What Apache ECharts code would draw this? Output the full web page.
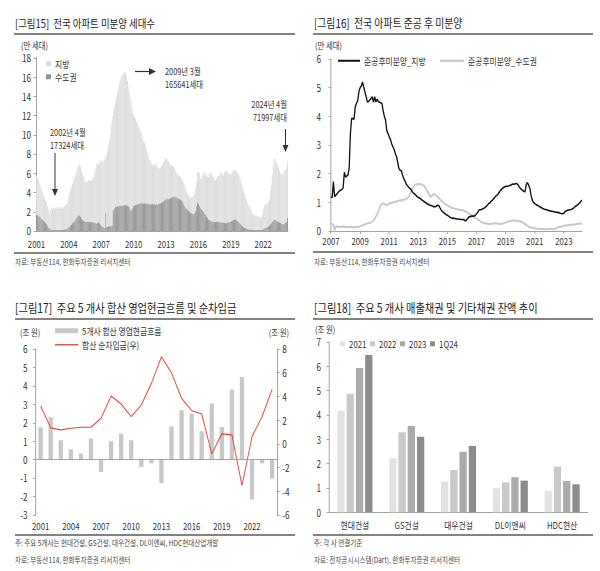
<!DOCTYPE html>
<html><head><meta charset="utf-8">
<script src="https://cdn.jsdelivr.net/npm/echarts@6/dist/echarts.min.js"></script>
<style>html,body{margin:0;padding:0;background:#fff;overflow:hidden}#c{height:571px;transform-origin:0 0}</style>
</head><body><div id="c"></div><script>
// ---------- DATA ----------
// Fig15: monthly unsold apartments (만 세대), 2001-01 .. 2024-04
const national = [
5.7,5.5,5.3,5.0,4.7,4.5,4.2,4.0,3.7,3.4,3.2,3.0,
2.6,2.3,2.0,1.73,2.2,2.4,2.3,2.5,2.2,2.4,2.3,2.5,
2.4,2.5,2.3,2.4,2.5,2.3,2.5,2.6,2.7,2.7,2.8,3.2,
3.6,4.0,4.3,4.6,4.9,5.2,5.5,5.8,6.0,6.3,6.6,6.9,
6.9,6.7,6.2,5.9,5.7,5.4,5.1,5.0,5.2,5.1,5.3,5.2,
5.2,5.4,5.3,5.5,5.6,6.0,6.6,7.0,7.1,6.9,7.2,7.3,
7.2,7.3,7.1,7.4,7.5,7.6,7.9,8.3,8.9,9.5,10.0,10.9,
11.5,12.0,12.6,13.1,13.5,14.0,14.4,14.8,15.3,15.7,16.0,16.2,
16.3,16.4,16.56,16.4,16.2,15.6,15.0,14.5,14.0,13.4,12.9,12.3,
12.1,11.9,11.7,11.4,11.2,11.0,10.8,10.5,10.3,10.0,9.6,9.3,
9.2,8.9,8.5,8.2,7.9,7.6,7.4,7.2,7.0,6.9,6.8,6.98,
7.0,6.9,6.7,6.6,6.5,6.5,6.6,6.7,6.9,7.1,7.3,7.5,
7.6,7.5,7.3,7.2,7.0,6.8,6.9,6.8,6.7,6.6,6.4,6.1,
6.0,5.9,5.8,5.7,5.6,5.5,5.3,5.1,4.9,4.6,4.3,4.1,
3.9,3.7,3.5,3.4,3.5,3.6,3.5,3.7,4.0,4.5,5.2,6.1,
6.1,6.0,5.5,5.4,5.6,6.0,6.2,5.9,6.0,5.8,5.6,5.6,
5.9,6.1,6.0,5.9,5.7,5.6,5.3,5.2,5.5,5.7,5.7,5.7,
6.0,6.1,6.0,5.9,5.7,6.1,6.2,6.3,6.2,6.0,6.0,5.9,
5.9,6.0,6.2,6.2,6.4,6.3,6.3,6.2,6.0,5.8,5.6,5.3,
4.9,4.5,4.2,3.9,3.6,3.3,3.0,2.8,2.6,2.5,2.3,2.0,
1.8,1.7,1.6,1.6,1.6,1.5,1.5,1.5,1.4,1.4,1.4,1.8,
2.2,2.5,2.8,2.7,2.8,2.8,3.1,3.3,4.2,4.8,5.8,6.8,
7.5,7.5,7.2,7.1,6.9,6.6,6.3,5.9,6.1,5.8,5.8,6.2,
6.4,6.4,6.5,7.2];
const metro = [
1.7,1.65,1.6,1.5,1.45,1.35,1.25,1.15,1.05,0.95,0.85,0.75,
0.6,0.45,0.3,0.2,0.15,0.12,0.1,0.1,0.08,0.1,0.1,0.12,
0.1,0.12,0.1,0.1,0.12,0.1,0.12,0.15,0.15,0.2,0.25,0.3,
0.4,0.5,0.6,0.7,0.8,0.9,1.0,1.2,1.3,1.45,1.6,1.67,
1.6,1.45,1.3,1.2,1.1,1.05,1.0,1.0,0.95,1.0,0.95,0.9,
0.95,0.9,0.95,0.9,0.85,0.9,0.8,0.75,0.85,0.9,0.8,0.7,
0.6,0.5,0.45,0.4,0.35,1.9,0.4,0.45,0.5,0.5,0.55,0.5,
0.6,2.1,2.3,2.4,2.5,2.5,2.6,2.5,2.6,2.6,2.7,2.6,
2.6,2.7,2.7,2.7,2.6,2.7,2.6,2.5,2.3,2.1,2.2,2.4,
2.6,2.6,2.7,2.7,2.8,2.8,2.8,2.9,2.9,2.9,2.9,2.9,
2.9,2.9,2.8,2.9,2.8,2.8,2.8,2.7,2.8,2.8,2.7,2.8,
2.7,2.8,2.7,2.8,2.8,2.9,2.9,3.0,3.0,3.1,3.2,3.3,
3.3,3.3,3.4,3.3,3.4,3.4,3.5,3.5,3.6,3.6,3.6,3.5,
3.5,3.4,3.4,3.3,3.3,3.2,3.1,2.9,2.7,2.5,2.4,2.3,
2.2,2.1,2.0,1.9,1.9,1.8,1.8,1.8,1.9,2.1,2.6,3.0,
2.8,2.6,2.4,2.3,2.2,2.1,2.0,1.8,1.7,1.5,1.4,1.2,
1.2,1.1,1.1,1.0,1.0,1.0,0.95,1.0,1.0,0.95,0.9,0.95,
0.9,0.9,0.85,0.9,0.85,0.85,0.8,0.85,0.85,0.9,0.9,0.95,
1.0,1.05,1.1,1.15,1.2,1.2,1.15,1.1,1.0,0.9,0.8,0.7,
0.6,0.5,0.4,0.35,0.3,0.25,0.2,0.2,0.18,0.15,0.15,0.13,
0.12,0.1,0.1,0.1,0.1,0.1,0.1,0.1,0.1,0.1,0.12,0.15,
0.2,0.25,0.3,0.35,0.4,0.45,0.5,0.6,0.7,0.8,0.95,1.1,
1.2,1.2,1.15,1.1,1.0,0.95,0.9,0.85,0.8,0.75,0.7,0.75,
0.8,0.85,1.0,1.4];
const local = national.map((v, i) => +(v - metro[i]).toFixed(2));

// Fig16: unsold after completion (만 세대), 2007-01 .. 2024-04
const localDone = [
1.19,1.17,1.72,1.2,1.25,1.3,1.35,1.4,1.42,1.45,1.5,2.05,
1.88,1.92,1.95,2.2,3.4,3.93,3.92,3.9,4.33,4.45,4.55,4.85,
5.0,5.05,5.2,5.02,4.85,4.68,4.5,4.52,4.57,4.62,4.68,4.5,
4.68,4.5,4.6,4.52,4.5,4.47,4.45,4.2,4.0,3.87,3.5,3.4,
3.29,3.2,3.05,2.94,2.85,2.7,2.6,2.4,2.18,2.12,2.1,1.95,
1.83,1.75,1.64,1.58,1.53,1.49,1.45,1.38,1.32,1.29,1.25,1.2,
1.17,1.15,1.12,1.08,1.05,1.02,0.99,0.96,0.93,0.91,0.9,0.88,
0.86,0.85,0.85,0.87,0.9,0.88,0.8,0.72,0.67,0.64,0.6,0.57,
0.55,0.52,0.48,0.46,0.45,0.44,0.44,0.43,0.42,0.42,0.41,0.40,
0.40,0.40,0.38,0.35,0.4,0.45,0.5,0.5,0.52,0.52,0.52,0.55,
0.6,0.65,0.73,0.74,0.75,0.77,0.79,0.82,0.86,0.9,0.96,0.98,
1.04,1.07,1.12,1.17,1.22,1.25,1.3,1.37,1.43,1.47,1.51,1.54,
1.55,1.56,1.57,1.58,1.6,1.62,1.64,1.63,1.65,1.66,1.62,1.55,
1.5,1.45,1.42,1.38,1.37,1.62,1.69,1.6,1.49,1.25,1.08,1.0,
0.96,0.93,0.9,0.88,0.85,0.83,0.8,0.78,0.76,0.75,0.74,0.72,
0.71,0.70,0.69,0.68,0.67,0.66,0.65,0.65,0.64,0.62,0.61,0.6,
0.62,0.68,0.7,0.72,0.73,0.74,0.75,0.77,0.8,0.84,0.87,0.9,
0.94,0.98,1.03,1.08];
const metroDone = [
0.27,0.24,0.22,0.03,0.17,0.16,0.15,0.15,0.14,0.15,0.16,0.15,
0.15,0.14,0.13,0.14,0.15,0.14,0.13,0.13,0.14,0.15,0.14,0.15,
0.16,0.18,0.2,0.21,0.23,0.25,0.26,0.27,0.28,0.3,0.32,0.36,
0.42,0.5,0.58,0.67,0.78,0.9,0.94,0.96,0.95,0.92,0.9,0.93,
0.96,0.98,0.97,1.0,1.02,1.01,1.03,1.05,1.06,1.07,1.06,1.08,
1.1,1.09,1.12,1.15,1.19,1.28,1.37,1.47,1.55,1.6,1.63,1.62,
1.63,1.64,1.63,1.62,1.6,1.55,1.5,1.42,1.35,1.26,1.19,1.22,
1.26,1.29,1.27,1.22,1.19,1.15,1.1,1.06,1.02,0.98,0.95,0.92,
0.9,0.87,0.84,0.82,0.8,0.79,0.78,0.77,0.76,0.75,0.74,0.73,
0.73,0.72,0.7,0.68,0.66,0.63,0.61,0.58,0.55,0.52,0.49,0.46,
0.43,0.4,0.37,0.34,0.31,0.29,0.28,0.27,0.26,0.25,0.25,0.24,
0.24,0.25,0.26,0.27,0.27,0.26,0.25,0.24,0.24,0.25,0.26,0.28,
0.3,0.31,0.33,0.34,0.35,0.36,0.37,0.37,0.36,0.36,0.35,0.35,
0.34,0.32,0.3,0.27,0.24,0.21,0.18,0.15,0.13,0.12,0.11,0.1,
0.1,0.09,0.08,0.08,0.07,0.07,0.07,0.07,0.06,0.06,0.06,0.07,
0.07,0.07,0.06,0.07,0.07,0.08,0.1,0.12,0.14,0.15,0.16,0.17,
0.18,0.19,0.19,0.2,0.2,0.21,0.22,0.22,0.23,0.23,0.24,0.24,
0.25,0.25,0.26,0.26];

// Fig17: 5 builders, annual (조 원)
const years3 = ['2001','2002','2003','2004','2005','2006','2007','2008','2009','2010','2011','2012',
  '2013','2014','2015','2016','2017','2018','2019','2020','2021','2022','2023','2024'];
const opCashFlow = [1.75,2.3,1.05,0.56,0.33,1.15,-0.67,1.0,1.41,1.05,-0.4,-0.2,
  -1.27,1.81,2.68,2.5,1.54,3.04,1.77,3.8,4.49,-2.16,-0.2,-1.03];
const netDebt = [3.19,1.35,1.18,1.32,1.4,1.4,2.16,4.03,3.36,2.3,3.28,5.1,
  7.34,6.0,3.84,2.8,2.52,-0.84,0.84,0.76,-3.53,0.61,2.3,4.6];

// Fig18: receivables (조 원)
const companies = ['현대건설','GS건설','대우건설','DL이앤씨','HDC현산'];
const rec2021 = [4.18,2.22,1.26,0.99,0.89];
const rec2022 = [4.87,3.29,1.74,1.23,1.88];
const rec2023 = [5.93,3.55,2.49,1.44,1.29];
const rec1Q24 = [6.47,3.11,2.73,1.30,1.15];

// ---------- LAYOUT ----------
const SX = 0.82;                 // reference is horizontally condensed
const X = v => v / SX;
const FONT = '"Noto Sans CJK KR","Noto Sans",sans-serif';
const el = document.getElementById('c');
el.style.width = (600 / SX) + 'px';
el.style.transform = 'scaleX(' + SX + ')';

function monthCats(y0, y1, mLast) {
  const a = [];
  for (let y = y0; y <= y1; y++) for (let m = 1; m <= 12; m++) {
    if (y === y1 && m > mLast) break;
    a.push(y + '-' + String(m).padStart(2, '0'));
  }
  return a;
}
const months1 = monthCats(2001, 2024, 4);
const months2 = monthCats(2007, 2024, 4);

const AX = '#9a9a9a';
const lab = (extra) => Object.assign({fontSize: 9.5, color: '#333', fontFamily: FONT}, extra || {});
function yAxis(grid, min, max, interval, pos, margin) {
  return {type: 'value', gridIndex: grid, min, max, interval, position: pos || 'left',
    axisLine: {show: true, lineStyle: {color: AX}},
    axisTick: {show: true, length: 3, lineStyle: {color: AX}},
    splitLine: {show: false},
    axisLabel: lab({fontSize: 10, margin: X(margin)})};
}

function T(x, y, text, size, o) {
  o = o || {};
  return {type: 'text', x: X(x), y: y, silent: true,
    style: {text, fontSize: size, fontFamily: FONT, fill: o.fill || '#333',
      textAlign: o.align || 'left', textVerticalAlign: 'middle'}};
}
function L(x1, y1, x2, y2, w, c) {
  return {type: 'line', silent: true, shape: {x1: X(x1), y1, x2: X(x2), y2},
    style: {stroke: c || '#5a5a5a', lineWidth: w || 1.5}};
}
function P(pts, c) {
  return {type: 'polygon', silent: true, shape: {points: pts.map(p => [X(p[0]), p[1]])},
    style: {fill: c || '#333'}};
}

const graphic = [
  T(15, 23, '[그림15]  전국 아파트 미분양 세대수', 11.5, {fill: '#222'}),
  T(314, 23, '[그림16]  전국 아파트 준공 후 미분양', 12, {fill: '#222'}),
  T(15, 308, '[그림17]  주요 5 개사 합산 영업현금흐름 및 순차입금', 12.5, {fill: '#222'}),
  T(314, 308, '[그림18]  주요 5 개사 매출채권 및 기타채권 잔액 추이', 12.5, {fill: '#222'}),
  L(14, 34, 295, 34), L(313, 34, 593, 34), L(15, 319, 295, 319), L(313, 319, 593, 319),
  L(14, 253, 295, 253), L(313, 252, 593, 252), L(15, 535, 295, 535), L(313, 535, 593, 535),
  T(21, 45, '(만 세대)', 9), T(315, 45, '(만 세대)', 9),
  T(20, 331.5, '(조 원)', 9), T(289, 331.5, '(조 원)', 9, {align: 'right'}),
  T(315, 328.5, '(조 원)', 9),
  // annotations fig15
  T(165, 71, '2009년 3월', 9), T(165, 83.5, '165641세대', 9),
  L(135, 71.5, 150, 71.5, 1.2, '#333'), P([[149, 68], [156, 71.5], [149, 75]]),
  T(287, 103.5, '2024년 4월', 9, {align: 'right'}), T(287, 116.5, '71997세대', 9, {align: 'right'}),
  L(285.5, 129, 285.5, 146, 1.2, '#333'), P([[282.5, 145], [288.5, 145], [285.5, 152]]),
  T(50, 131.5, '2002년 4월', 9), T(50, 144.5, '17324세대', 9),
  L(55, 153, 55, 190, 1.2, '#333'), P([[52, 189], [58, 189], [55, 196]]),
  // sources
  T(15, 262, '자료: 부동산114, 한화투자증권 리서치센터', 8, {fill: '#444'}),
  T(314, 262, '자료: 부동산114, 한화투자증권 리서치센터', 8, {fill: '#444'}),
  T(15, 543, '주: 주요 5개사는 현대건설, GS건설, 대우건설, DL이앤씨, HDC현대산업개발', 8, {fill: '#444'}),
  T(15, 560, '자료: 부동산114, 한화투자증권 리서치센터', 8, {fill: '#444'}),
  T(314, 543, '주: 각 사 연결기준', 8, {fill: '#444'}),
  T(314, 560, '자료: 전자공시시스템(Dart), 한화투자증권 리서치센터', 8, {fill: '#444'})
];

function lg(name, left, top, w, h) {
  return {data: [name], left: X(left), top, padding: 0, itemWidth: X(w), itemHeight: h,
    itemGap: 0, selectedMode: false, icon: 'rect',
    textStyle: {fontSize: 9.5, color: '#333', fontFamily: FONT}};
}

const option = {
  animation: false,
  textStyle: {fontFamily: FONT},
  grid: [
    {left: X(36), top: 58, width: X(252), height: 173, outerBoundsMode: 'none'},
    {left: X(331), top: 59, width: X(251), height: 172, outerBoundsMode: 'none'},
    {left: X(35.6), top: 349, width: X(241.6), height: 166, outerBoundsMode: 'none'},
    {left: X(329), top: 342, width: X(259), height: 170.3, outerBoundsMode: 'none'}
  ],
  legend: [
    lg('지방', 46, 59, 5, 5),
    lg('수도권', 46, 72, 5, 5),
    lg('준공후미분양_지방', 338, 56, 22, 2),
    lg('준공후미분양_수도권', 440, 56, 24, 2),
    lg('5개사 합산 영업현금흐름', 55, 326, 23, 5),
    lg('합산 순차입금(우)', 55, 340, 23, 1.3),
    lg('2021', 340, 339, 5, 5),
    lg('2022', 370, 339, 5, 5),
    lg('2023', 400, 339, 5, 5),
    lg('1Q24', 430, 339, 5, 5)
  ],
  xAxis: [
    {type: 'category', gridIndex: 0, data: months1, boundaryGap: true,
      axisLine: {lineStyle: {color: AX}},
      axisTick: {alignWithLabel: true, length: 3, interval: i => i % 36 === 0, lineStyle: {color: AX}},
      axisLabel: lab({interval: i => i % 36 === 0, formatter: v => v.slice(0, 4), margin: 8})},
    {type: 'category', gridIndex: 1, data: months2, boundaryGap: false,
      axisLine: {lineStyle: {color: AX}},
      axisTick: {length: 3, interval: i => i % 24 === 0, lineStyle: {color: AX}},
      axisLabel: lab({interval: i => i % 24 === 0, formatter: v => v.slice(0, 4), margin: 5})},
    {type: 'category', gridIndex: 2, data: years3,
      axisLine: {show: false}, axisTick: {show: false},
      axisLabel: lab({interval: 2, margin: 6})},
    {type: 'category', gridIndex: 3, data: companies,
      axisLine: {lineStyle: {color: AX}},
      axisTick: {length: 4, lineStyle: {color: AX}},
      axisLabel: lab({margin: 8})}
  ],
  yAxis: [
    yAxis(0, 0, 18, 2, 'left', 5),
    yAxis(1, 0, 6, 1, 'left', 10),
    yAxis(2, -3, 6, 1, 'left', 8),
    yAxis(2, -6, 8, 2, 'right', 5),
    yAxis(3, 0, 7, 1, 'left', 8)
  ],
  series: [
    {type: 'bar', name: '수도권', data: metro, stack: 'p1', xAxisIndex: 0, yAxisIndex: 0,
      barCategoryGap: '0%', itemStyle: {color: '#939393'}},
    {type: 'bar', name: '지방', data: local, stack: 'p1', xAxisIndex: 0, yAxisIndex: 0,
      barCategoryGap: '0%', itemStyle: {color: '#dcdcdc'}},
    {type: 'line', name: '준공후미분양_수도권', data: metroDone, xAxisIndex: 1, yAxisIndex: 1,
      symbol: 'none', lineStyle: {color: '#c8c8c8', width: 2}, itemStyle: {color: '#c8c8c8'}},
    {type: 'line', name: '준공후미분양_지방', data: localDone, xAxisIndex: 1, yAxisIndex: 1,
      symbol: 'none', lineStyle: {color: '#111', width: 1.6}, itemStyle: {color: '#111'}},
    {type: 'bar', name: '5개사 합산 영업현금흐름', data: opCashFlow, xAxisIndex: 2, yAxisIndex: 2,
      barWidth: X(4.3), itemStyle: {color: '#c8c8c8'},
      markLine: {silent: true, symbol: 'none', label: {show: false},
        lineStyle: {color: AX, type: 'solid', width: 1}, data: [{yAxis: 0}]}},
    {type: 'line', name: '합산 순차입금(우)', data: netDebt, xAxisIndex: 2, yAxisIndex: 3,
      symbol: 'none', lineStyle: {color: '#e8423a', width: 1.1}, itemStyle: {color: '#e8423a'}},
    {type: 'bar', name: '2021', data: rec2021, xAxisIndex: 3, yAxisIndex: 4,
      barWidth: X(7.3), barGap: '27%', itemStyle: {color: '#e3e3e3'}},
    {type: 'bar', name: '2022', data: rec2022, xAxisIndex: 3, yAxisIndex: 4,
      barWidth: X(7.3), barGap: '27%', itemStyle: {color: '#c9c9c9'}},
    {type: 'bar', name: '2023', data: rec2023, xAxisIndex: 3, yAxisIndex: 4,
      barWidth: X(7.3), barGap: '27%', itemStyle: {color: '#ababab'}},
    {type: 'bar', name: '1Q24', data: rec1Q24, xAxisIndex: 3, yAxisIndex: 4,
      barWidth: X(7.3), barGap: '27%', itemStyle: {color: '#8c8c8c'}}
  ],
  graphic: graphic
};
const chart = echarts.init(el, null, {renderer: 'svg'});
chart.setOption(option);
</script></body></html>
